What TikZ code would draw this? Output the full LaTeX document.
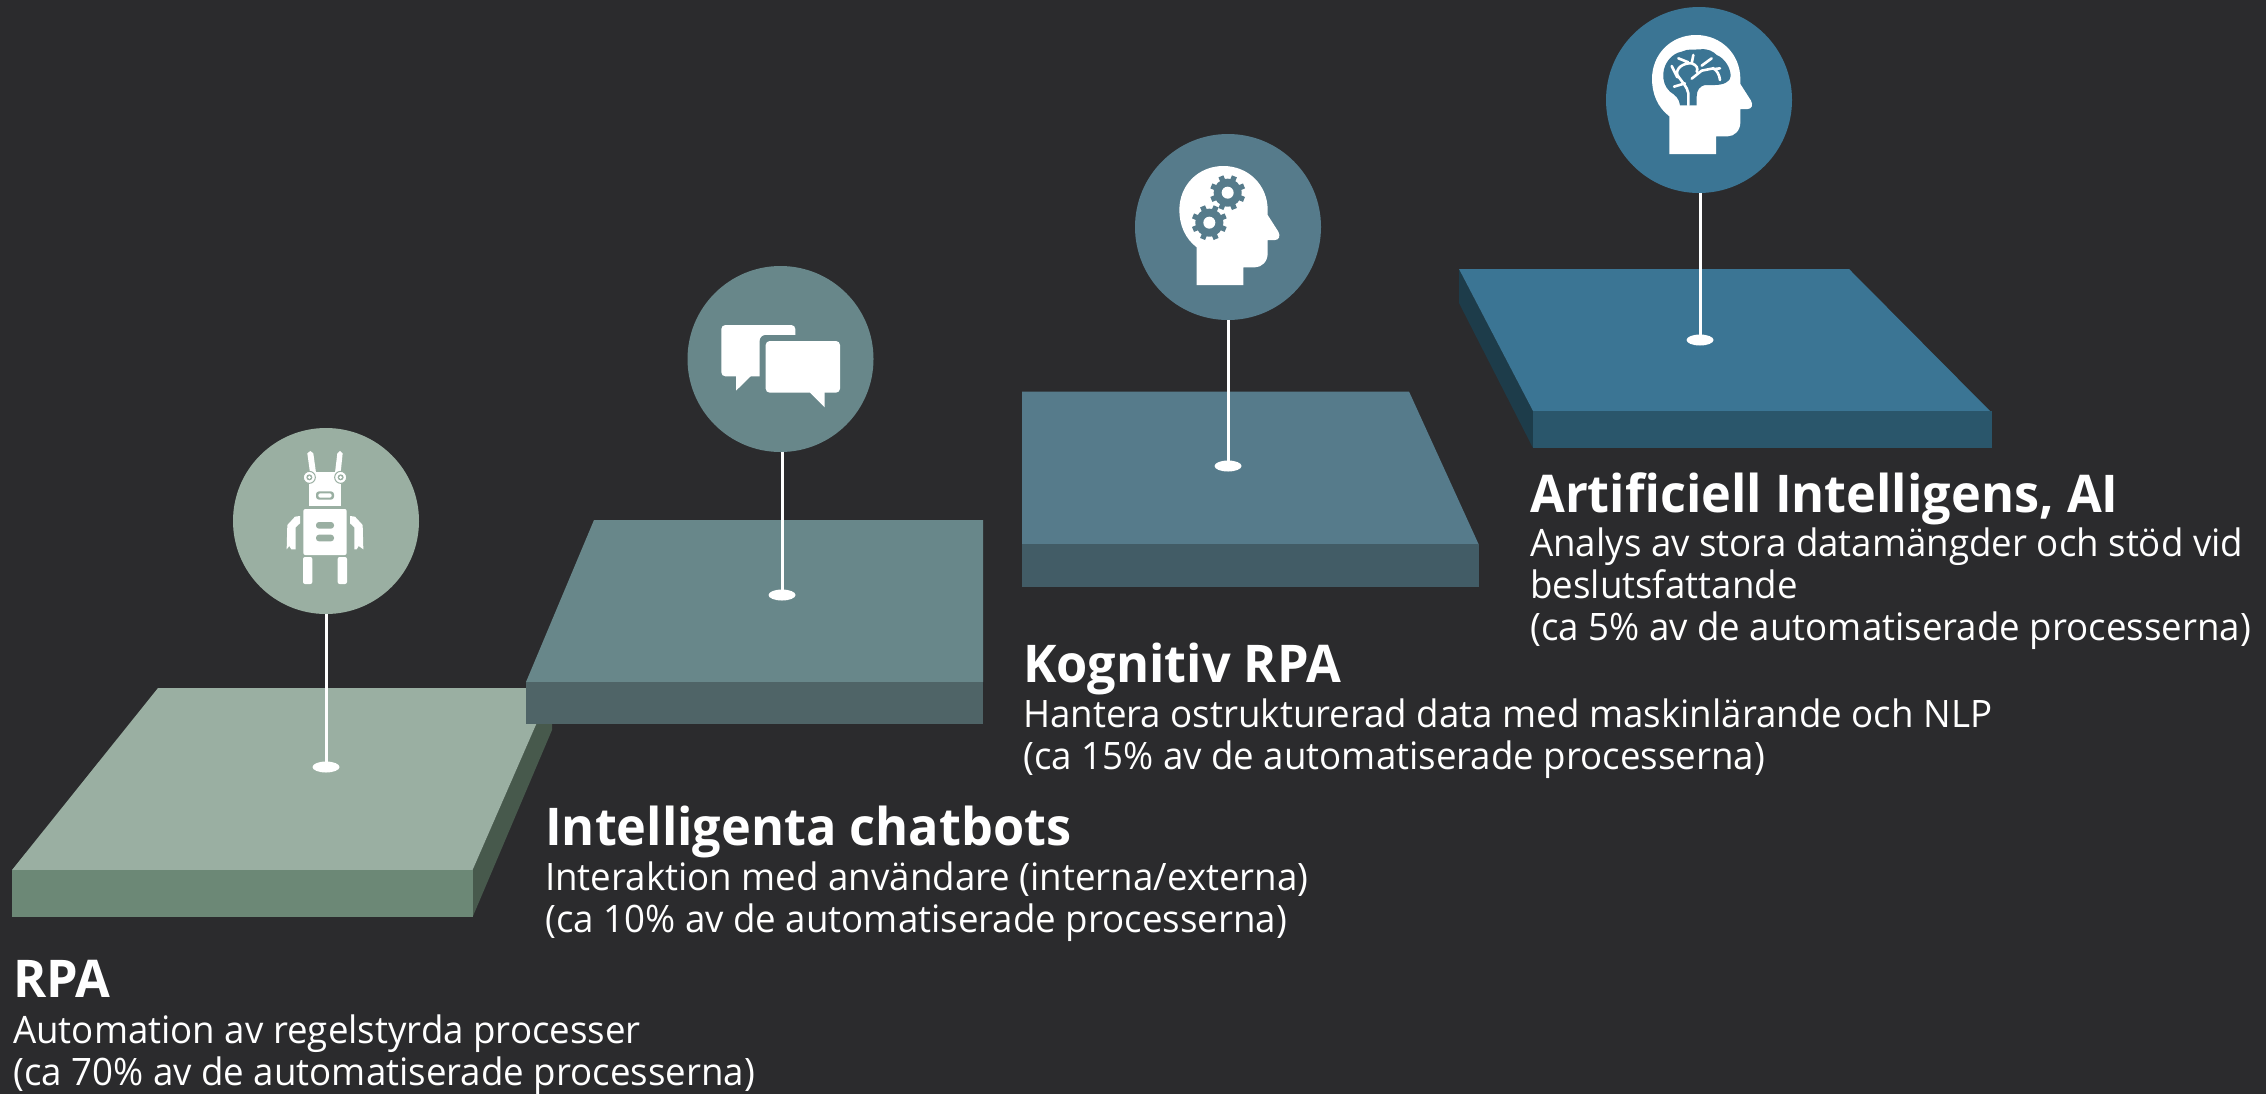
\documentclass[tikz,border=0pt]{standalone}
\usepackage{fontspec}
\setmainfont[FakeStretch=0.97]{Open Sans}
\usepackage{xcolor}
\usetikzlibrary{shapes.geometric}

\definecolor{bgdark}{HTML}{2B2B2D}
\definecolor{greenTop}{HTML}{9AAFA2}
\definecolor{greenFront}{HTML}{6C8876}
\definecolor{greenSide}{HTML}{47594C}
\definecolor{tealTop}{HTML}{68878A}
\definecolor{tealFront}{HTML}{4F6467}
\definecolor{steelTop}{HTML}{567B8B}
\definecolor{steelFront}{HTML}{425C66}
\definecolor{blueTop}{HTML}{3B7594}
\definecolor{blueFront}{HTML}{2A566B}
\definecolor{blueSide}{HTML}{1D3C4A}

\tikzset{
    headtext/.style = {anchor = base west, inner sep = 0pt, text = white,
        font = \fontsize{52}{58}\selectfont\bfseries},
    bodytext/.style = {anchor = base west, inner sep = 0pt, text = white,
        font = \fontsize{37.8}{42}\selectfont},
    disc/.style = {circle, inner sep = 0pt, minimum size = 186pt},
    pinfoot/.style = {ellipse, fill = white, inner sep = 0pt,
        minimum width = 27pt, minimum height = 11pt},
    pinline/.style = {draw = white, line width = 3pt}
}

% head outline, in the coordinates of a 3x crop
\newcommand{\headshape}{(200, 435) -- (200, 322)
    .. controls (165, 295) and (148, 255) .. (148, 210)
    .. controls (148, 135) and (205, 78) .. (280, 78)
    .. controls (355, 78) and (413, 135) .. (413, 210)
    -- (413, 225) -- (445, 275)
    .. controls (452, 288) and (447, 300) .. (435, 300)
    -- (413, 300) -- (413, 340)
    .. controls (413, 365) and (395, 382) .. (375, 382)
    -- (340, 382) -- (340, 435) -- cycle}

\newcommand{\gearicon}[3]{
    \fill [#3] (#1, #2) circle (42);
    \foreach \a in {0, 45, ..., 315}
        \fill [#3, rotate around = {\a + 22.5:(#1, #2)}]
            (#1 - 8, #2 - 53) rectangle (#1 + 8, #2);
    \fill [white] (#1, #2) circle (18);
}

\begin{document}
\begin{tikzpicture}[x = 1pt, y = -1pt]
\useasboundingbox (0, 0) rectangle (2266, 1093);
\fill [bgdark] (-5, -5) rectangle (2271, 1098);

% platforms
\fill [greenSide] (552, 688) -- (552, 730) -- (472.6, 917) -- (472.6, 870) -- cycle;
\fill [greenTop] (158, 688) -- (552, 688) -- (472.6, 870) -- (12, 870) -- cycle;
\fill [greenFront] (12, 870) rectangle (472.6, 917);

\fill [tealTop] (594, 520) -- (983, 520) -- (983, 682) -- (526, 682) -- cycle;
\fill [tealFront] (526, 682) rectangle (983, 724);

\fill [steelTop] (1022, 391.5) -- (1409, 391.5) -- (1478.5, 544) -- (1022, 544) -- cycle;
\fill [steelFront] (1022, 544) rectangle (1478.5, 587);

\fill [blueSide] (1459, 269) -- (1459, 303) -- (1533, 448) -- (1533, 411) -- cycle;
\fill [blueTop] (1459, 269) -- (1849, 269) -- (1990, 411) -- (1533, 411) -- cycle;
\fill [blueFront] (1533, 411) rectangle (1992, 448);

% discs and pins
\node (discA) [disc, fill = greenTop] at (326, 521) {};
\node (discB) [disc, fill = tealTop] at (780.5, 359) {};
\node (discC) [disc, fill = steelTop] at (1228, 227) {};
\node (discD) [disc, fill = blueTop] at (1699, 100) {};

\node (pinA) [pinfoot] at (326, 767) {};
\node (pinB) [pinfoot] at (782, 595) {};
\node (pinC) [pinfoot] at (1228, 466) {};
\node (pinD) [pinfoot] at (1700, 340) {};

\draw [pinline] (discA.south -| pinA.center) -- (pinA.center);
\draw [pinline] (discB.south -| pinB.center) -- (pinB.center);
\draw [pinline] (discC.south -| pinC.center) -- (pinC.center);
\draw [pinline] (discD.south -| pinD.center) -- (pinD.center);

% robot
\begin{scope}[shift = {(220, 420)}, scale = 1/3]
\fill [white] (262, 100) -- (271, 93) -- (280, 100) -- (288, 158) -- (270, 158) -- cycle;
\fill [white] (345, 158) -- (352, 100) -- (360, 93) -- (368, 100) -- (362, 158) -- cycle;
\fill [white] (268, 155) rectangle (362, 258);
\filldraw [draw = greenTop, fill = white, line width = 1pt] (268, 172) circle (18);
\filldraw [draw = greenTop, fill = white, line width = 1pt] (362, 172) circle (18);
\fill [greenTop] (268, 172) circle (9);
\fill [greenTop] (362, 172) circle (9);
\fill [white] (268, 172) circle (5);
\fill [white] (362, 172) circle (5);
\fill [greenTop, rounded corners = 3pt] (288, 214) rectangle (342, 239);
\fill [white, rounded corners = 2pt] (295, 220) rectangle (335, 233);
\fill [white, rounded corners = 2pt] (250, 267) rectangle (380, 405);
\fill [greenTop, rounded corners = 3pt] (288, 306) rectangle (342, 326);
\fill [greenTop, rounded corners = 3pt] (288, 344) rectangle (342, 364);
\fill [white, rounded corners = 2pt] (249, 411) rectangle (277, 492);
\fill [white, rounded corners = 2pt] (353, 411) rectangle (381, 492);
\fill [white] (240, 288) -- (225, 290) -- (202, 315) -- (200, 388) -- (208, 378)
    -- (214, 388) -- (227, 388) -- (227, 322) -- (240, 310) -- cycle;
\fill [white] (390, 288) -- (405, 290) -- (428, 315) -- (430, 388) -- (416, 378)
    -- (410, 388) -- (403, 388) -- (403, 322) -- (390, 310) -- cycle;
\end{scope}

% speech bubbles
\begin{scope}[shift = {(680, 260)}, scale = 1/3]
\fill [white, rounded corners = 4pt] (124, 195) rectangle (346, 349);
\fill [white] (168, 345) -- (168, 392) -- (212, 349) -- (212, 345) -- cycle;
\fill [tealTop, rounded corners = 6pt] (239, 225) rectangle (498, 420);
\fill [white, rounded corners = 4pt] (257, 243) rectangle (480, 398);
\fill [white] (390, 394) -- (390, 398) -- (434, 442) -- (434, 394) -- cycle;
\end{scope}

% head with gears
\begin{scope}[shift = {(1130, 140)}, scale = 1/3]
\fill [white] \headshape;
\gearicon{293}{158}{steelTop}
\gearicon{238}{248}{steelTop}
\end{scope}

% head with brain
\begin{scope}[shift = {(1602.67, 9)}, scale = 1/3]
\fill [white] \headshape;
\end{scope}
\begin{scope}[shift = {(1600, 0)}, scale = 1/3]
\fill [blueTop] (240, 316) .. controls (238, 295) and (225, 285) .. (210, 275)
    .. controls (195, 262) and (188, 240) .. (190, 220)
    .. controls (192, 190) and (215, 160) .. (245, 155)
    .. controls (265, 145) and (285, 150) .. (300, 148)
    .. controls (325, 145) and (340, 155) .. (350, 165)
    .. controls (375, 175) and (392, 205) .. (392, 228)
    .. controls (392, 245) and (370, 255) .. (345, 255)
    -- (315, 255) .. controls (300, 258) and (290, 270) .. (290, 290)
    -- (290, 316) -- cycle;
\draw [white, line width = 2.6pt, line cap = round]
    (265, 316) -- (265, 280) .. controls (262, 260) and (245, 245) .. (232, 225)
    .. controls (226, 205) and (250, 188) .. (275, 190)
    .. controls (290, 195) and (295, 205) .. (290, 215)
    (255, 250) -- (222, 260)
    (232, 232) -- (215, 198)
    (235, 175) -- (265, 187)
    (280, 165) -- (275, 190)
    (275, 236) -- (305, 212) -- (340, 205) .. controls (352, 212) and (358, 225) .. (360, 240)
    (345, 207) -- (360, 205)
    (335, 175) -- (305, 197);
\end{scope}

% texts
\node (headA) [headtext] at (13, 997) {RPA};
\node (bodyA1) [bodytext] at (13, 1043) {Automation av regelstyrda processer};
\node (bodyA2) [bodytext] at (13, 1085) {(ca 70\% av de automatiserade processerna)};

\node (headB) [headtext] at (545, 845) {Intelligenta chatbots};
\node (bodyB1) [bodytext] at (545, 890) {Interaktion med användare (interna/externa)};
\node (bodyB2) [bodytext] at (545, 932) {(ca 10\% av de automatiserade processerna)};

\node (headC) [headtext] at (1023, 682) {Kognitiv RPA};
\node (bodyC1) [bodytext] at (1023, 727) {Hantera ostrukturerad data med maskinlärande och NLP};
\node (bodyC2) [bodytext] at (1023, 769) {(ca 15\% av de automatiserade processerna)};

\node (headD) [headtext] at (1530, 512) {Artificiell Intelligens, AI};
\node (bodyD1) [bodytext] at (1530, 556) {Analys av stora datamängder och stöd vid};
\node (bodyD2) [bodytext] at (1530, 598) {beslutsfattande};
\node (bodyD3) [bodytext] at (1530, 640) {(ca 5\% av de automatiserade processerna)};
\end{tikzpicture}
\end{document}
